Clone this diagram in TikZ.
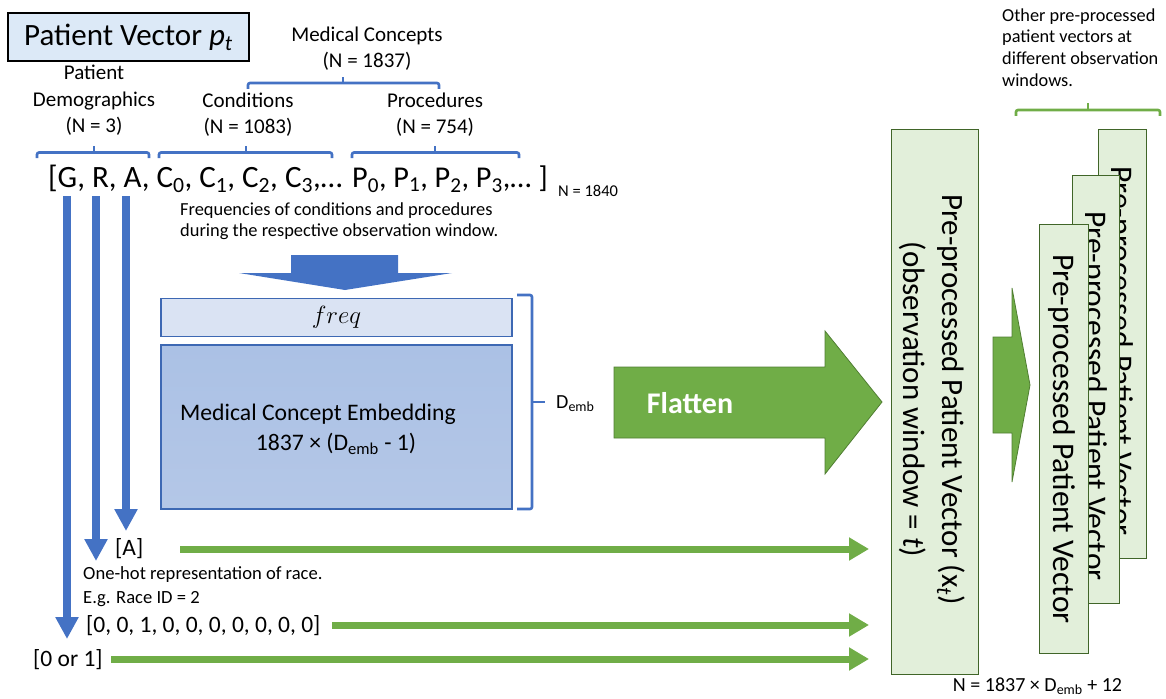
\documentclass[tikz,border=0pt]{standalone}
\usepackage{fontspec}
\usepackage{graphicx}
\setmainfont{Carlito}
\usetikzlibrary{arrows.meta}
\definecolor{mblue}{HTML}{4472C4}
\definecolor{mgreen}{HTML}{70AD47}
\definecolor{lgreen}{HTML}{E2EFDA}
\definecolor{dgreen}{HTML}{507E32}
\definecolor{lblue}{HTML}{DAE3F3}
\definecolor{mlblue}{HTML}{B4C7E7}
\definecolor{mlblue2}{HTML}{ABC1E5}
\definecolor{bborder}{HTML}{3D68B3}
\definecolor{titlefill}{HTML}{DCE9F7}
\newcommand{\fsz}[2]{\fontsize{#1}{#2}\selectfont}
\begin{document}
\begin{tikzpicture}[x=1pt,y=-1pt,
  lbl/.style={inner sep=0pt, align=center, font=\fsz{21}{26.5}},
  small/.style={inner sep=0pt, align=left, font=\fsz{18.4}{21}},
  brk/.style={draw=mblue, line width=2.6pt, rounded corners=2pt},
  gbrk/.style={draw=mgreen, line width=2.6pt, rounded corners=2pt},
  downarr/.style={draw=mblue, line width=8pt, -{Triangle[length=22pt,width=22pt]}},
  rightarr/.style={draw=mgreen, line width=7pt, -{Triangle[length=20pt,width=22pt]}},
  ppbox/.style={draw=dgreen!80!black, fill=lgreen, line width=1pt, inner sep=0pt},
  pptext/.style={inner sep=0pt, rotate=-90, align=center, font=\fsz{31.5}{40}},
  blockg/.style={fill=mgreen, draw=dgreen, line width=0.8pt},
  vec/.style={inner sep=0pt, anchor=west, font=\fsz{23.5}{26}}
]
\useasboundingbox (0,0) rectangle (1166,698);

% title
\node[draw=black, line width=1.5pt, fill=titlefill, minimum width=241pt, minimum height=48pt, inner sep=0pt,
      font=\fsz{31}{34}] (title) at (128.5,37) {Patient Vector \textit{p\textsubscript{t}}};

% labels
\node[lbl] (medc) at (367,48.5) {Medical Concepts\\(N = 1837)};
\node[lbl] (demo) at (94,100.5) {Patient\\Demographics\\(N = 3)};
\node[lbl] (cond) at (248,114.5) {Conditions\\(N = 1083)};
\node[lbl] (proc) at (435,114.5) {Procedures\\(N = 754)};

% brackets
\draw[brk] (248,89) -- (248,83) -- (439,83) -- (439,89);
\draw[brk] (343,83) -- (343,77);
\draw[brk] (37,158) -- (37,152.5) -- (149,152.5) -- (149,158);
\draw[brk] (94,152.5) -- (94,146);
\draw[brk] (159,158) -- (159,152.5) -- (332,152.5) -- (332,158);
\draw[brk] (246,152.5) -- (246,146);
\draw[brk] (352,158) -- (352,152.5) -- (519,152.5) -- (519,158);
\draw[brk] (435,152.5) -- (435,146);

% main vector
\node[inner sep=0pt, anchor=base west, font=\fsz{30}{32}] (vecA) at (48,187)
  {\resizebox{294pt}{!}{[G, R, A, C\textsubscript{0}, C\textsubscript{1}, C\textsubscript{2}, C\textsubscript{3},…}};
\node[inner sep=0pt, anchor=base west, font=\fsz{30}{32}] (vecB) at (352,187)
  {\resizebox{179pt}{!}{P\textsubscript{0}, P\textsubscript{1}, P\textsubscript{2}, P\textsubscript{3},…}};
\node[inner sep=0pt, anchor=base east, font=\fsz{30}{32}] (vecC) at (548,187) {]};
\node[inner sep=0pt, anchor=west, font=\fsz{16.5}{18}] (n1840) at (558,191) {N = 1840};

\node[small, anchor=west] (freqtxt) at (180,221)
  {Frequencies of conditions and procedures\\during the respective observation window.};

% blue block arrow down
\fill[mblue] (291,255) -- (398,255) -- (398,273) -- (452,273) -- (345,290) -- (239,273) -- (291,273) -- cycle;

% freq and embedding boxes
\node[draw=bborder, line width=1.2pt, fill=lblue, minimum width=351pt, minimum height=38pt, inner sep=0pt] (freq) at (336.5,317.5) {\fsz{26}{28}$freq$};
\node[draw=bborder, line width=1.2pt, top color=mlblue2, bottom color=mlblue, minimum width=351pt, minimum height=164pt, inner sep=0pt] (emb) at (336.5,427) {};
\node[inner sep=0pt, font=\fsz{23.7}{26}] (emb1) at (318,414) {Medical Concept Embedding};
\node[inner sep=0pt, font=\fsz{23.7}{26}] (emb2) at (336,444) {1837 × (D\textsubscript{emb} - 1)};

% D_emb bracket
\draw[brk] (517,295) -- (532,295) -- (532,509) -- (517,509);
\draw[brk] (532,402) -- (545,402);
\node[inner sep=0pt, anchor=west, font=\fsz{20}{22}] (demb) at (556,404) {D\textsubscript{emb}};

% Flatten arrow
\draw[blockg] (614,367) -- (825,367) -- (825,331) -- (882,402) -- (825,474) -- (825,438) -- (614,438) -- cycle;
\node[inner sep=0pt, font=\bfseries\fsz{30}{32}, text=white] (flat) at (690,403) {Flatten};

% main pre-processed vector box
\node[ppbox, minimum width=87pt, minimum height=545pt] (pv) at (934.5,401.5) {};
\node[pptext, font=\fsz{31}{39}] (pvtext) at (932,399.5) {Pre-processed Patient Vector (x\textsubscript{\textit{t}})\\(observation window = \textit{t})};

% small arrow
\draw[blockg] (993,337) -- (1012,337) -- (1012,288) -- (1030,385) -- (1012,482) -- (1012,433) -- (993,433) -- cycle;

% stacked boxes
\node[ppbox, minimum width=48pt, minimum height=429pt] (s3) at (1122,343.5) {};
\node[pptext] (s3t) at (1120,351) {Pre-processed Patient Vector};
\node[ppbox, minimum width=47pt, minimum height=428pt] (s2) at (1095.5,389) {};
\node[pptext] (s2t) at (1094,396) {Pre-processed Patient Vector};
\node[ppbox, minimum width=49pt, minimum height=429pt] (s1) at (1063.5,438.5) {};
\node[pptext] (s1t) at (1062,439) {Pre-processed Patient Vector};

% green bracket and text
\draw[gbrk] (1016,116) -- (1016,110) -- (1160,110) -- (1160,116);
\draw[gbrk] (1088,110) -- (1088,103);
\node[inner sep=0pt, anchor=west, align=left, font=\fsz{18.3}{21.7}] (other) at (1002,47.5)
  {Other pre-processed\\patient vectors at\\different observation\\windows.};

\node[inner sep=0pt, font=\fsz{20}{21}] (nbottom) at (1037.5,686) {N = 1837 × D\textsubscript{emb} + 12};

% demographic outputs
\node[vec] (atxt) at (115,549) {[A]};
\node[small, anchor=west, font=\fsz{18.6}{24}] (onehot) at (83,587) {One-hot representation of race.\\E.g. Race ID = 2};
\node[vec] (race) at (86,626) {[0, 0, 1, 0, 0, 0, 0, 0, 0, 0]};
\node[vec] (gender) at (33,660) {[0 or 1]};

% blue down arrows
\coordinate (gs) at (67,196); \coordinate (ge) at (67,639);
\coordinate (rs) at (96,196); \coordinate (re) at (96,561);
\coordinate (as) at (126,196); \coordinate (ae) at (126,531);
\draw[downarr] (gs) -- (ge);
\draw[downarr] (rs) -- (re);
\draw[downarr] (as) -- (ae);

% green right arrows
\coordinate (a1s) at (180,549); \coordinate (a1e) at (869,549);
\coordinate (a2s) at (332,625); \coordinate (a2e) at (869,625);
\coordinate (a3s) at (111,659); \coordinate (a3e) at (869,659);
\draw[rightarr] (a1s) -- (a1e);
\draw[rightarr] (a2s) -- (a2e);
\draw[rightarr] (a3s) -- (a3e);
\end{tikzpicture}
\end{document}
